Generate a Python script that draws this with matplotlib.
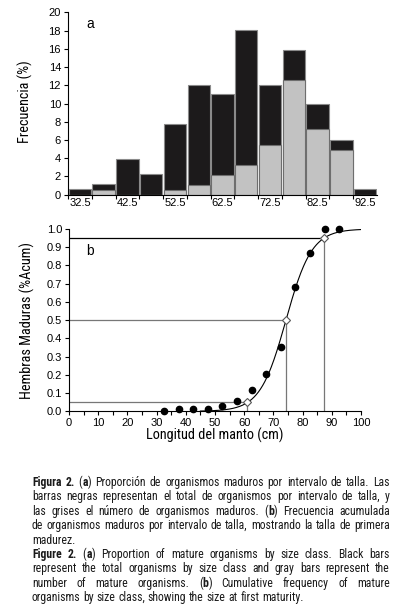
import numpy as np
import matplotlib
matplotlib.use("Agg")
import matplotlib.pyplot as plt
from matplotlib import font_manager
from matplotlib.font_manager import FontProperties, findfont, get_font

# ---------------- data ----------------
# panel a: size classes (cm), total and mature frequency (%)
clases = [32.5, 37.5, 42.5, 47.5, 52.5, 57.5, 62.5, 67.5, 72.5, 77.5, 82.5, 87.5, 92.5]
total = [0.6, 1.15, 3.9, 2.25, 7.75, 12.05, 11.0, 18.05, 12.05, 15.85, 9.9, 6.05, 0.6]
maduros = [0.0, 0.55, 0.0, 0.0, 0.55, 1.1, 2.2, 3.3, 5.5, 12.55, 7.15, 4.95, 0.0]

# panel b: cumulative proportion of mature females
longitud = [32.5, 37.5, 42.5, 47.5, 52.5, 57.5, 62.5, 67.5, 72.5, 77.5, 82.5, 87.5, 92.5]
acumulada = [0.0, 0.012, 0.014, 0.014, 0.03, 0.056, 0.117, 0.203, 0.352, 0.682, 0.868, 1.0, 1.0]

# fitted logistic model and reference sizes (L5, L50, L95)
L50 = 74.3
r = 0.226
ref_x = [60.9, 74.3, 87.3]
ref_y = [0.05, 0.5, 0.95]

# ---------------- fonts ----------------
fl = font_manager.fontManager.ttflist
names = {f.name for f in fl}
fam, est = 'Liberation Sans', 'normal'
if 'Liberation Sans Narrow' in names:
    fam = 'Liberation Sans Narrow'
else:
    for cand in ['Roboto Condensed', 'Open Sans Condensed', 'Noto Sans Condensed']:
        if cand in names:
            fam = cand
            break
    else:
        for cand in ['Roboto', 'Noto Sans', 'Open Sans', 'Liberation Sans']:
            if any(f.name == cand and f.stretch == 'condensed' for f in fl):
                fam, est = cand, 'condensed'
                break
estrecha = not (fam == 'Liberation Sans' and est == 'normal')

plt.rcParams['font.family'] = 'Liberation Sans'

W, H = 393, 607
fig = plt.figure(figsize=(W / 100, H / 100), dpi=100)

def px_ax(l, t, r_, b):
    return fig.add_axes([l / W, 1 - b / H, (r_ - l) / W, (b - t) / H])

lab = dict(family=fam, stretch=est)
fs_lab = 10.3 if estrecha else 8.8
fs_tick = 8

# ---------------- panel a ----------------
ax1 = px_ax(68, 12.3, 377, 194.7)
pos = np.arange(len(clases))
ax1.bar(pos, total, width=0.94, color='#1c1a1b', edgecolor='#8a8a8a', linewidth=0.8)
ax1.bar(pos, maduros, width=0.94, color='#c2c2c2', edgecolor='#6e6e6e', linewidth=0.8)
ax1.set_xlim(-0.5, len(clases) - 0.5)
ax1.set_ylim(0, 20)
ax1.set_yticks(np.arange(0, 21, 2))
ax1.set_xticks(pos - 0.5, minor=False)
ax1.set_xticklabels([])
ax1.set_xticks(pos[::2], minor=True)
ax1.set_xticklabels([f"{c:.1f}" for c in clases[::2]], minor=True)
ax1.tick_params(axis='x', which='minor', length=0, labelsize=fs_tick, pad=2.5)
ax1.tick_params(axis='x', which='major', length=3, width=0.8)
ax1.tick_params(axis='y', length=3, width=0.8, labelsize=fs_tick, pad=2)
for s in ['top', 'right']:
    ax1.spines[s].set_visible(False)
ax1.spines['left'].set_linewidth(0.8)
ax1.spines['bottom'].set_linewidth(0.8)
ax1.set_ylabel('Frecuencia (%)', fontsize=fs_lab, **lab)
ax1.yaxis.set_label_coords(-0.112, 0.51)
ax1.text(0.071, 0.936, 'a', transform=ax1.transAxes, fontsize=10, ha='center', va='center')

# ---------------- panel b ----------------
ax2 = px_ax(69, 229, 361, 411.3)
xs = np.linspace(45, 100, 300)
ax2.plot(xs, 1 / (1 + np.exp(-r * (xs - L50))), color='black', lw=0.8, zorder=3)
ax2.plot(longitud, acumulada, 'o', color='black', ms=4.5, zorder=4, clip_on=False)
for i, (xr, yr) in enumerate(zip(ref_x, ref_y)):
    hc = 'black' if i == 2 else '#777777'
    ax2.plot([0, xr], [yr, yr], color=hc, lw=0.9, zorder=2)
    ax2.plot([xr, xr], [0, yr], color='#777777', lw=0.9, zorder=2)
ax2.plot(ref_x, ref_y, 'D', mfc='white', mec='#555555', ms=4, mew=0.8, zorder=5)
ax2.set_xlim(0, 100)
ax2.set_ylim(0, 1.0)
ax2.set_xticks(np.arange(0, 101, 10))
ax2.set_xticks(np.arange(5, 100, 10), minor=True)
ax2.set_yticks(np.arange(0, 1.01, 0.1))
ax2.set_yticklabels([f"{v:.1f}" for v in np.arange(0, 1.01, 0.1)])
ax2.tick_params(axis='both', which='major', length=3, width=0.8, labelsize=fs_tick)
ax2.tick_params(axis='x', which='minor', length=3, width=0.8)
ax2.tick_params(axis='x', pad=1.5)
ax2.tick_params(axis='y', pad=2)
for s in ['top', 'right']:
    ax2.spines[s].set_visible(False)
ax2.spines['left'].set_linewidth(0.8)
ax2.spines['bottom'].set_linewidth(0.8)
ax2.set_ylabel('Hembras Maduras (%Acum)', fontsize=fs_lab, **lab)
ax2.yaxis.set_label_coords(-0.118, 0.50)
ax2.set_xlabel('Longitud del manto (cm)', fontsize=fs_lab, **lab)
ax2.xaxis.set_label_coords(0.5, -0.092)
ax2.text(0.072, 0.879, 'b', transform=ax2.transAxes, fontsize=10, ha='center', va='center')

# ---------------- caption (justified, one text per word) ----------------
B = True
lineas = [
    ([[("Figura", B)], [("2.", B)], [("(", 0), ("a", B), (")", 0)], [("Proporción", 0)], [("de", 0)],
      [("organismos", 0)], [("maduros", 0)], [("por", 0)], [("intervalo", 0)], [("de", 0)],
      [("talla.", 0)], [("Las", 0)]], True),
    ("barras negras representan el total de organismos por intervalo de talla, y", True),
    ([[("las", 0)], [("grises", 0)], [("el", 0)], [("número", 0)], [("de", 0)], [("organismos", 0)],
      [("maduros.", 0)], [("(", 0), ("b", B), (")", 0)], [("Frecuencia", 0)], [("acumulada", 0)]], True),
    ("de organismos maduros por intervalo de talla, mostrando la talla de primera", True),
    ("madurez.", False),
    ([[("Figure", B)], [("2.", B)], [("(", 0), ("a", B), (")", 0)], [("Proportion", 0)], [("of", 0)],
      [("mature", 0)], [("organisms", 0)], [("by", 0)], [("size", 0)], [("class.", 0)],
      [("Black", 0)], [("bars", 0)]], True),
    ("represent the total organisms by size class and gray bars represent the", True),
    ([[("number", 0)], [("of", 0)], [("mature", 0)], [("organisms.", 0)], [("(", 0), ("b", B), (")", 0)],
      [("Cumulative", 0)], [("frequency", 0)], [("of", 0)], [("mature", 0)]], True),
    ("organisms by size class, showing the size at first maturity.", False),
]
lineas = [([[(w, 0)] for w in l.split()] if isinstance(l, str) else l, j) for l, j in lineas]

renderer = fig.canvas.get_renderer()
x0, x1 = 32, 390
y_base = 486
paso = 14.4

def fprop(fs, bold=False):
    return FontProperties(family=fam, stretch=est, size=fs, weight='bold' if bold else 'normal')

def medir(s, fs, bold=False):
    return renderer.get_text_width_height_descent(s, fprop(fs, bold), ismath=False)[0]

def natural(linea, fs):
    esp = medir("a a", fs) - medir("aa", fs)
    ws = [sum(medir(s, fs, b) for s, b in p) for p in linea]
    return sum(ws) + esp * 1.1 * (len(ws) - 1)

def ajuste_y(s, fs, bold):
    # Agg puts each string's bitmap on whole pixels; find the y that keeps
    # every word on the same baseline row
    try:
        from matplotlib.backends.backend_agg import get_hinting_flag
        prop = fprop(fs, bold)
        font = get_font(findfont(prop))
        font.clear()
        font.set_size(prop.get_size_in_points(), 100)
        font.set_text(s, 0, flags=get_hinting_flag())
        _, h = font.get_width_height()
        d = font.get_descent()
        return h // 64 - (h - d) // 64 - d / 64
    except Exception:
        return 0.0

# largest font size that lets every line fit in the column
fs_cap = 8.8
while max(natural(l, fs_cap) for l, _ in lineas) > (x1 - x0) and fs_cap > 5:
    fs_cap -= 0.1

espacio = medir("a a", fs_cap) - medir("aa", fs_cap)
for k, (linea, justificar) in enumerate(lineas):
    y = round(y_base + k * paso)
    anchos = [[medir(s, fs_cap, b) for s, b in p] for p in linea]
    total_w = sum(sum(a) for a in anchos)
    if justificar and len(linea) > 1:
        gap = (x1 - x0 - total_w) / (len(linea) - 1)
    else:
        gap = espacio
    x = x0
    for palabra, an in zip(linea, anchos):
        xx = x
        for (s, b), a in zip(palabra, an):
            yy = y + ajuste_y(s, fs_cap, b) + 1e-6
            fig.text(xx / W, 1 - yy / H, s, fontsize=fs_cap, va='baseline', ha='left',
                     fontweight='bold' if b else 'normal', color='#1a1a1a', **lab)
            xx += a
        x += sum(an) + gap

fig.savefig('out.png', dpi=100)
